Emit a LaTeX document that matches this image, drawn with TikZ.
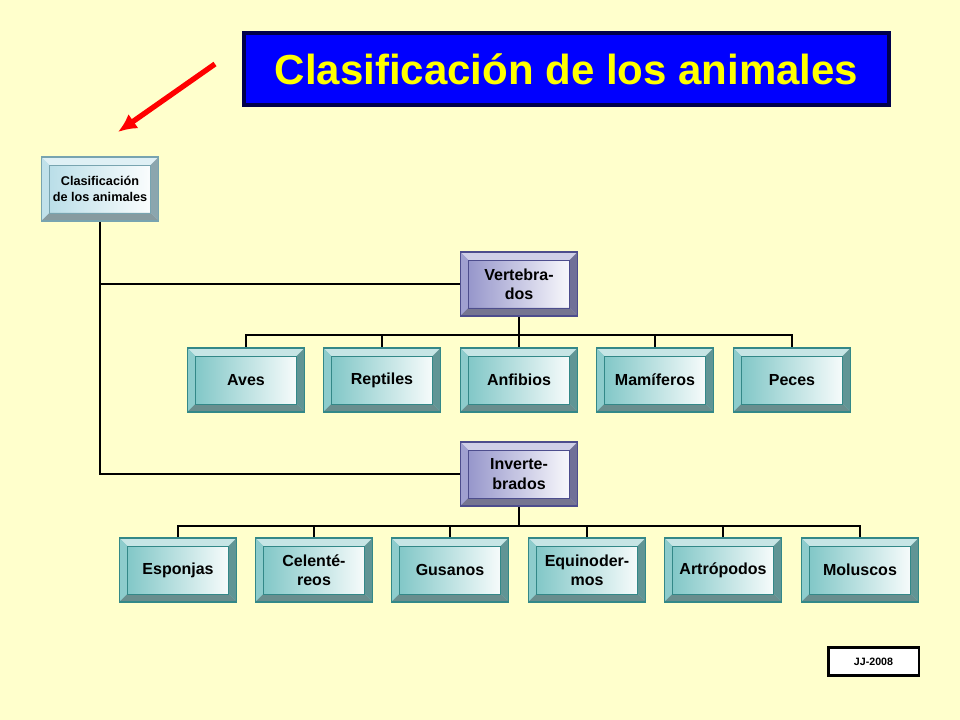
\documentclass[tikz,border=0pt]{standalone}
\usepackage{fontspec}
\setmainfont{Liberation Sans}
\usetikzlibrary{calc,arrows.meta}
\definecolor{bgyellow}{RGB}{255,255,204}
\definecolor{tealc}{RGB}{64,170,170}
\definecolor{purpc}{RGB}{96,96,176}
\definecolor{rootc}{RGB}{150,205,220}
\definecolor{titleblue}{RGB}{0,0,255}
\definecolor{titleyel}{RGB}{255,255,0}
\tikzset{every picture/.style={line width=0.75pt}}
\tikzset{
  bevel/.style={minimum width=87pt, minimum height=47pt, inner sep=0pt, align=center,
    font=\bfseries\fontsize{12}{14.5}\selectfont, left color=#1!70, right color=white,
    draw=#1!80!black, line width=1pt},
  link/.style={line width=1.6pt}
}
% bevel frame drawn over a node: name, colour
\newcommand{\bevframe}[2]{
  \coordinate (nw) at (#1.north west);
  \coordinate (ne) at (#1.north east);
  \coordinate (sw) at (#1.south west);
  \coordinate (se) at (#1.south east);
  \fill[#2!30!white] (nw) -- (ne) -- ($(ne)+(-8,8)$) -- ($(nw)+(8,8)$) -- cycle;
  \fill[#2!60!white] (nw) -- (sw) -- ($(sw)+(8,-8)$) -- ($(nw)+(8,8)$) -- cycle;
  \fill[#2!50!gray] (ne) -- (se) -- ($(se)+(-8,-8)$) -- ($(ne)+(-8,8)$) -- cycle;
  \fill[#2!35!gray] (sw) -- (se) -- ($(se)+(-8,-8)$) -- ($(sw)+(8,-8)$) -- cycle;
  \draw[#2!80!black, line width=0.6pt] ($(nw)+(8,8)$) rectangle ($(se)+(-8,-8)$);
  \draw[#2!80!black, line width=1pt] (nw) rectangle (se);
}
\begin{document}
\begin{tikzpicture}[x=0.75pt,y=0.75pt,yscale=-1]
\fill[bgyellow] (0,0) rectangle (960,720);

% Title
\node[fill=titleblue, draw=black!70!blue, line width=3pt, minimum width=484pt, minimum height=54pt,
  text=titleyel, font=\bfseries\fontsize{31.5}{36}\selectfont] (title) at (566.5,69) {Clasificación de los animales};
\coordinate (arrowstart) at (215,64);
\coordinate (arrowend) at (118,132);
\draw[red, line width=4pt, -{Latex[length=14pt,width=13pt]}] (arrowstart) -- (arrowend);

% Connectors (under boxes)
\coordinate (trunk) at (100,220);
\coordinate (vbus) at (519,335);
\coordinate (ibus) at (519,526);
\draw[link] (trunk) |- (461,284) (trunk) |- (461,474);
\foreach \x in {246,382,519,655,792}
  \draw[link] (519,315) -- (vbus) -| (\x,348);
\foreach \x in {178,314,450,587,723,860}
  \draw[link] (519,506) -- (ibus) -| (\x,539);

% Boxes
\node[bevel=rootc, font=\bfseries\fontsize{9.5}{11.5}\selectfont] (root) at (100,189) {Clasificación\\de los animales};
\node[bevel=purpc] (vert) at (519,284) {Vertebra-\\dos};
\node[bevel=purpc] (invert) at (519,474) {Inverte-\\brados};

\node[bevel=tealc] (aves) at (246,380) {Aves};
\node[bevel=tealc] (reptiles) at (382,380) {Reptiles};
\node[bevel=tealc] (anfibios) at (519,380) {Anfibios};
\node[bevel=tealc] (mamiferos) at (655,380) {Mamíferos};
\node[bevel=tealc] (peces) at (792,380) {Peces};

\node[bevel=tealc] (esponjas) at (178,570) {Esponjas};
\node[bevel=tealc] (celent) at (314,570) {Celenté-\\reos};
\node[bevel=tealc] (gusanos) at (450,570) {Gusanos};
\node[bevel=tealc] (equino) at (587,570) {Equinoder-\\mos};
\node[bevel=tealc] (artro) at (723,570) {Artrópodos};
\node[bevel=tealc] (molus) at (860,570) {Moluscos};

\foreach \n/\c in {root/rootc,vert/purpc,invert/purpc,aves/tealc,reptiles/tealc,anfibios/tealc,
  mamiferos/tealc,peces/tealc,esponjas/tealc,celent/tealc,gusanos/tealc,equino/tealc,artro/tealc,molus/tealc}
  {\bevframe{\n}{\c}}

\node[draw=black, line width=2pt, fill=white, minimum width=68pt, minimum height=21pt,
  font=\bfseries\fontsize{8}{10}\selectfont] (jj) at (873.5,661.5) {JJ-2008};
\end{tikzpicture}
\end{document}
